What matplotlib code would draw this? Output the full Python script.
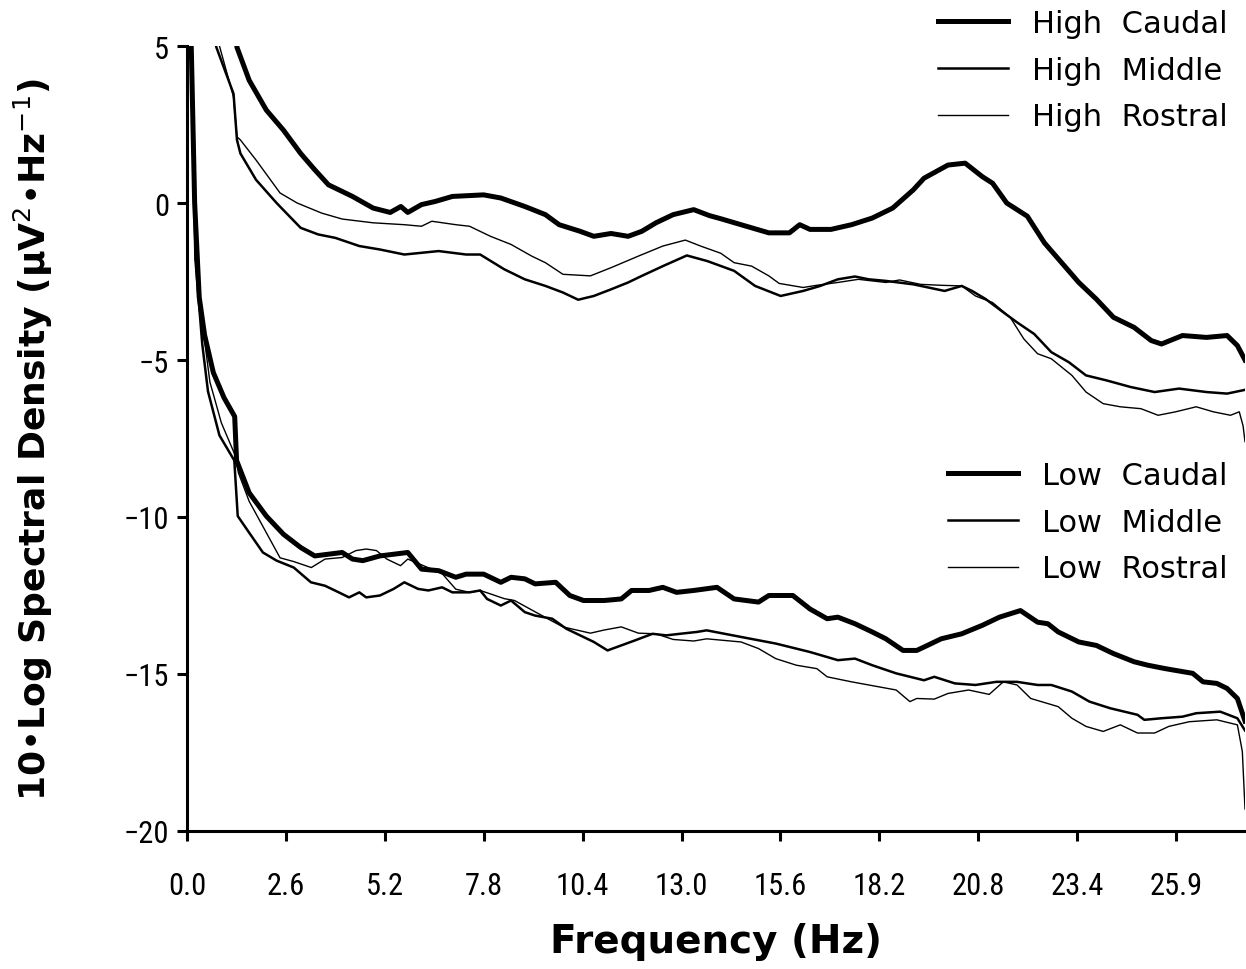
import matplotlib
matplotlib.use("Agg")
import matplotlib.pyplot as plt

# ---- data (frequency in Hz, 10*log PSD) ----
hc_f = [1.10, 1.31, 1.63, 2.08, 2.53, 2.98, 3.35, 3.71, 4.34, 4.88, 5.33, 5.61, 5.79,
        6.15, 6.51, 6.96, 7.78, 8.23, 8.86, 9.40, 9.76, 10.31, 10.67, 11.12, 11.57,
        11.93, 12.30, 12.75, 13.29, 13.70, 14.00, 14.53, 15.26, 15.80, 16.07, 16.34,
        16.89, 17.43, 17.97, 18.51, 19.05, 19.33, 19.96, 20.41, 20.86, 21.13, 21.50,
        22.04, 22.49, 22.94, 23.39, 23.85, 24.30, 24.84, 25.29, 25.56, 26.11, 26.74,
        27.28, 27.55, 27.75]
hc_v = [7.0, 4.96, 3.91, 2.96, 2.32, 1.58, 1.06, 0.58, 0.21, -0.16, -0.30, -0.11, -0.30,
        -0.05, 0.05, 0.21, 0.26, 0.16, -0.11, -0.37, -0.69, -0.90, -1.06, -0.97, -1.06,
        -0.90, -0.63, -0.37, -0.21, -0.40, -0.50, -0.69, -0.95, -0.95, -0.69, -0.84,
        -0.84, -0.69, -0.48, -0.16, 0.42, 0.79, 1.21, 1.27, 0.84, 0.63, 0.00,
        -0.42, -1.27, -1.90, -2.53, -3.06, -3.64, -3.96, -4.38, -4.49, -4.22, -4.28,
        -4.22, -4.54, -5.00]

hm_f = [0.60, 0.77, 1.22, 1.31, 1.40, 1.81, 2.35, 2.98, 3.44, 3.89, 4.52, 5.06, 5.70,
        6.60, 7.32, 7.69, 8.32, 8.86, 9.40, 9.86, 10.26, 10.67, 11.12, 11.57, 11.93,
        12.48, 13.11, 13.65, 14.35, 14.90, 15.57, 16.16, 16.61, 17.07, 17.52, 17.88,
        18.33, 19.05, 19.87, 20.32, 20.59, 20.95, 21.41, 21.77, 22.22, 22.67, 23.13,
        23.58, 24.12, 24.75, 25.38, 26.02, 26.74, 27.28, 27.75]
hm_v = [6.0, 4.96, 3.48, 2.01, 1.58, 0.74, 0.00, -0.79, -1.00, -1.11, -1.37, -1.48, -1.64,
        -1.53, -1.64, -1.64, -2.11, -2.43, -2.64, -2.85, -3.08, -2.96, -2.75, -2.53, -2.32,
        -2.01, -1.67, -1.85, -2.16, -2.64, -2.96, -2.80, -2.64, -2.43, -2.34, -2.43,
        -2.48, -2.59, -2.80, -2.64, -2.80, -3.06, -3.48, -3.80, -4.17, -4.75, -5.07,
        -5.49, -5.65, -5.86, -6.02, -5.91, -6.02, -6.07, -5.95]

hr_f = [0.65, 0.86, 1.22, 1.31, 1.40, 1.81, 2.44, 2.89, 3.53, 4.07, 4.88, 5.70, 6.15,
        6.42, 7.05, 7.41, 7.96, 8.50, 9.04, 9.40, 9.86, 10.58, 11.12, 11.84, 12.48,
        13.07, 13.47, 14.00, 14.35, 14.81, 15.26, 15.53, 16.16, 16.52, 17.07, 17.61,
        18.33, 18.69, 19.24, 19.78, 20.32, 20.68, 21.13, 21.59, 21.95, 22.31, 22.67,
        23.21, 23.58, 24.03, 24.48, 25.02, 25.47, 25.93, 26.47, 26.92, 27.37, 27.60,
        27.70, 27.75]
hr_v = [6.0, 4.96, 3.38, 2.11, 2.01, 1.37, 0.32, 0.00, -0.32, -0.51, -0.63, -0.69, -0.74,
        -0.58, -0.69, -0.74, -1.06, -1.32, -1.69, -1.90, -2.27, -2.32, -2.06, -1.69, -1.37,
        -1.18, -1.37, -1.60, -1.90, -2.01, -2.32, -2.56, -2.69, -2.62, -2.53, -2.43,
        -2.53, -2.45, -2.59, -2.62, -2.64, -2.96, -3.17, -3.64, -4.33, -4.80, -4.96,
        -5.49, -6.02, -6.39, -6.49, -6.55, -6.76, -6.65, -6.49, -6.65, -6.76, -6.65,
        -7.10, -7.60]

lc_f = [0.05, 0.12, 0.20, 0.32, 0.46, 0.69, 0.97, 1.25, 1.30, 1.63, 2.08, 2.53, 2.98,
        3.35, 4.07, 4.34, 4.61, 5.06, 5.79, 6.15, 6.60, 7.05, 7.32, 7.78, 8.23, 8.50,
        8.86, 9.13, 9.67, 10.04, 10.40, 10.94, 11.39, 11.66, 12.12, 12.48, 12.84,
        13.29, 13.90, 14.35, 14.99, 15.26, 15.89, 16.34, 16.79, 17.07, 17.52, 17.97,
        18.33, 18.78, 19.14, 19.42, 19.78, 20.32, 20.86, 21.31, 21.86, 22.31, 22.58,
        22.85, 23.39, 23.85, 24.30, 24.84, 25.20, 25.66, 26.38, 26.65, 27.01, 27.28,
        27.55, 27.75]
lc_v = [8.0, 4.5, 0.0, -3.0, -4.2, -5.4, -6.2, -6.8, -8.2, -9.23, -9.97, -10.55, -10.97,
        -11.24, -11.13, -11.34, -11.39, -11.24, -11.13, -11.66, -11.71, -11.92, -11.82,
        -11.82, -12.08, -11.92, -11.97, -12.13, -12.08, -12.50, -12.66, -12.66, -12.61,
        -12.34, -12.34, -12.24, -12.40, -12.34, -12.24, -12.61, -12.71, -12.50, -12.50,
        -12.93, -13.24, -13.19, -13.40, -13.66, -13.88, -14.25, -14.25, -14.09, -13.88,
        -13.72, -13.45, -13.19, -12.98, -13.35, -13.40, -13.66, -13.98, -14.09, -14.35,
        -14.61, -14.72, -14.83, -14.98, -15.25, -15.30, -15.46, -15.78, -16.50]

lm_f = [0.05, 0.12, 0.22, 0.40, 0.55, 0.85, 1.24, 1.33, 1.63, 1.99, 2.35, 2.80, 3.25,
        3.62, 3.98, 4.25, 4.52, 4.70, 5.06, 5.42, 5.70, 6.06, 6.33, 6.69, 6.96, 7.41,
        7.69, 7.87, 8.23, 8.50, 8.86, 9.13, 9.58, 9.95, 10.31, 10.67, 11.03, 11.39,
        11.75, 12.21, 12.57, 12.93, 13.38, 13.63, 14.53, 15.44, 16.34, 17.07, 17.52,
        17.97, 18.60, 19.33, 19.60, 20.14, 20.68, 21.23, 21.77, 22.31, 22.67, 23.21,
        23.67, 24.21, 24.93, 25.11, 25.56, 26.11, 26.47, 27.10, 27.55, 27.75]
lm_v = [8.0, 4.0, -1.8, -4.5, -6.0, -7.4, -8.2, -9.97, -10.50, -11.13, -11.39, -11.61,
        -12.08, -12.19, -12.40, -12.56, -12.40, -12.56, -12.50, -12.29, -12.08, -12.29,
        -12.34, -12.24, -12.40, -12.40, -12.34, -12.61, -12.82, -12.66, -13.03, -13.14,
        -13.24, -13.56, -13.77, -13.98, -14.25, -14.09, -13.93, -13.72, -13.77, -13.72,
        -13.66, -13.61, -13.82, -14.03, -14.30, -14.56, -14.51, -14.72, -14.98, -15.20,
        -15.09, -15.30, -15.35, -15.25, -15.25, -15.35, -15.35, -15.56, -15.88, -16.09,
        -16.30, -16.46, -16.41, -16.36, -16.25, -16.20, -16.41, -16.80]

lr_f = [0.05, 0.12, 0.22, 0.42, 0.60, 0.90, 1.25, 1.35, 1.63, 2.08, 2.44, 2.80, 3.26,
        3.62, 4.07, 4.43, 4.70, 4.97, 5.24, 5.60, 5.79, 6.69, 7.05, 7.41, 7.69, 7.96,
        8.32, 8.59, 8.95, 9.40, 9.86, 10.22, 10.58, 10.94, 11.39, 11.84, 12.30, 12.75,
        13.29, 13.63, 14.53, 14.99, 15.44, 15.98, 16.52, 16.79, 17.43, 18.15, 18.60,
        18.96, 19.14, 19.60, 19.96, 20.50, 21.04, 21.41, 21.77, 22.13, 22.85, 23.21,
        23.58, 24.03, 24.48, 24.93, 25.38, 25.75, 26.29, 27.01, 27.55, 27.68, 27.75]
lr_v = [8.0, 4.2, -1.8, -4.0, -5.7, -7.0, -8.0, -8.6, -9.5, -10.5, -11.3, -11.42, -11.61,
        -11.34, -11.29, -11.07, -11.02, -11.07, -11.34, -11.55, -11.34, -11.80, -12.30,
        -12.40, -12.34, -12.45, -12.60, -12.66, -12.90, -13.20, -13.50, -13.60, -13.70,
        -13.60, -13.50, -13.70, -13.72, -13.90, -13.95, -13.88, -13.98, -14.19, -14.51,
        -14.72, -14.83, -15.09, -15.25, -15.41, -15.51, -15.88, -15.78, -15.80, -15.62,
        -15.51, -15.65, -15.25, -15.35, -15.78, -16.04, -16.41, -16.67, -16.83, -16.62,
        -16.88, -16.88, -16.67, -16.52, -16.46, -16.62, -17.47, -19.30]

tick_pos = [k * 2.594 for k in range(11)]
tick_lab = ["0.0", "2.6", "5.2", "7.8", "10.4", "13.0", "15.6", "18.2", "20.8", "23.4", "25.9"]

# narrow face for the tick numbers, if one is around
narrow = ["Liberation Sans Narrow", "DejaVu Sans Condensed", "Roboto Condensed", "DejaVu Sans"]

fig = plt.figure(figsize=(12.46, 9.70), dpi=100)
ax = fig.add_axes([0.1501, 0.1423, 0.8491, 0.8092])

ax.plot(hc_f, hc_v, color="black", lw=3.6, label="High  Caudal")
ax.plot(hm_f, hm_v, color="black", lw=1.8, label="High  Middle")
ax.plot(hr_f, hr_v, color="black", lw=1.0, label="High  Rostral")
ax.plot(lc_f, lc_v, color="black", lw=3.6, label="Low  Caudal")
ax.plot(lm_f, lm_v, color="black", lw=1.8, label="Low  Middle")
ax.plot(lr_f, lr_v, color="black", lw=1.0, label="Low  Rostral")

ax.set_xlim(0, 27.75)
ax.set_ylim(-20, 5)
ax.set_yticks([-20, -15, -10, -5, 0, 5])
ax.set_xticks(tick_pos)
ax.set_xticklabels(tick_lab)

for s in ["top", "right"]:
    ax.spines[s].set_visible(False)
for s in ["left", "bottom"]:
    ax.spines[s].set_linewidth(2.2)
ax.tick_params(direction="out", length=7, width=2.2, labelsize=22, pad=6)
ax.tick_params(axis="x", pad=22)
for lab in ax.get_xticklabels() + ax.get_yticklabels():
    lab.set_family(narrow)

ax.set_xlabel("Frequency (Hz)", fontsize=28, fontweight="bold", labelpad=16)
ax.set_ylabel("10•Log Spectral Density (μV$^{2}$•Hz$^{-1}$)", fontsize=26,
              fontweight="bold")
ax.yaxis.set_label_coords(-0.125, 0.5)

handles = ax.get_lines()
leg_kw = dict(frameon=False, fontsize=22, handlelength=2.3, handletextpad=0.8,
              labelspacing=0.58, borderpad=0.1, borderaxespad=0.0)
leg1 = fig.legend(handles[:3], [h.get_label() for h in handles[:3]], loc="upper right",
                  bbox_to_anchor=(0.988, 0.993), **leg_kw)
leg2 = fig.legend(handles[3:], [h.get_label() for h in handles[3:]], loc="upper right",
                  bbox_to_anchor=(0.988, 0.527), **leg_kw)

fig.savefig("out.png", dpi=100)
